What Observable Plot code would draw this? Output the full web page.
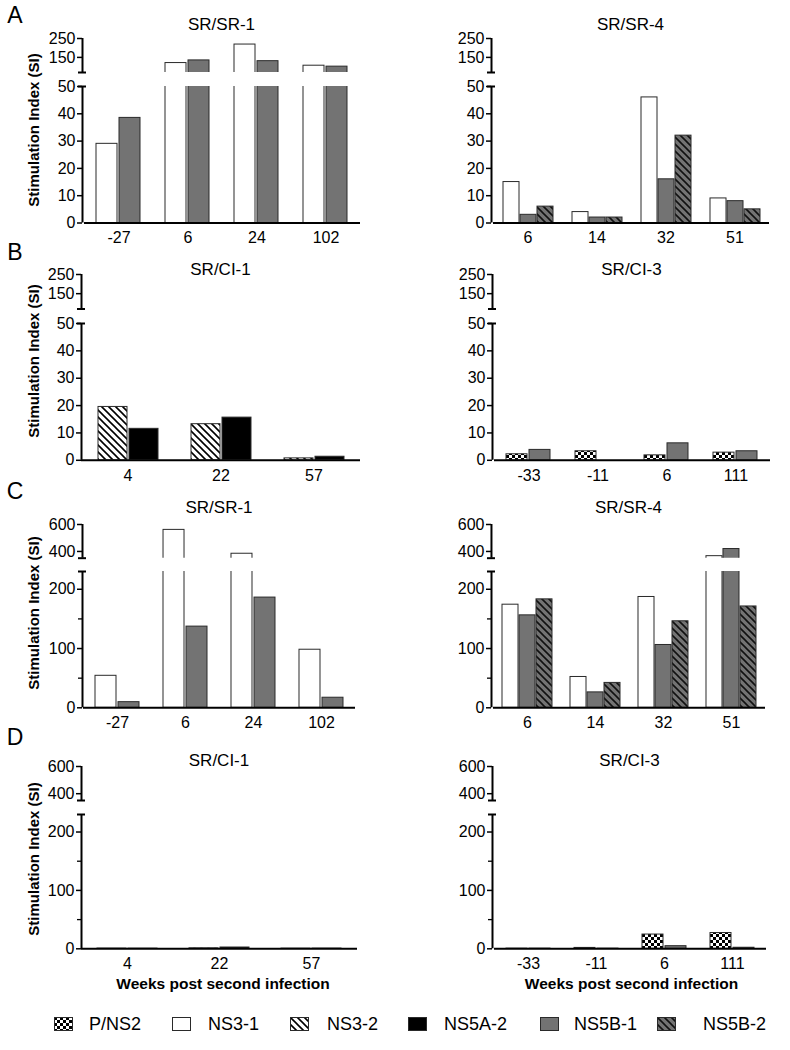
<!DOCTYPE html>
<html><head><meta charset="utf-8">
<script src="https://cdn.jsdelivr.net/npm/d3@7"></script>
<script src="https://cdn.jsdelivr.net/npm/@observablehq/plot@0.6"></script>
<style>
body{margin:0;background:#fff;}
#chart{position:relative;width:790px;height:1050px;background:#fff;font-family:"Liberation Sans",Arial,Helvetica,sans-serif;color:#000;overflow:hidden;}
.abs{position:absolute;white-space:nowrap;transform:translate(-50%,-50%);line-height:normal;}
.letter{font-size:23px;}
.ptitle{font-size:17px;}
.ytitle{font-size:15px;font-weight:bold;transform:translate(-50%,-50%) rotate(-90deg);}
.xtitle{font-size:15.5px;font-weight:bold;}
.legtext{font-size:18px;transform:translate(0,-50%);}
.legsw{position:absolute;transform:translate(0,-50%);}
</style></head>
<body><div id="chart">
<svg width="0" height="0" style="position:absolute"><defs>
<pattern id="pChecker" patternUnits="userSpaceOnUse" width="6" height="6">
<rect width="6" height="6" fill="#fff"/><rect width="3" height="3" fill="#000"/><rect x="3" y="3" width="3" height="3" fill="#000"/>
</pattern>
<pattern id="pHatchWhite" patternUnits="userSpaceOnUse" width="7" height="7">
<rect width="7" height="7" fill="#fff"/><path d="M-1,-1L8,8M-1,6L1,8M6,-1L8,1" stroke="#000" stroke-width="1.6"/>
</pattern>
<pattern id="pHatchGray" patternUnits="userSpaceOnUse" width="7" height="7">
<rect width="7" height="7" fill="#737373"/><path d="M-1,-1L8,8M-1,6L1,8M6,-1L8,1" stroke="#111" stroke-width="1.6"/>
</pattern>
</defs></svg>
</div>
<script>
// ---------- data ----------
const seriesNames = ["P/NS2","NS3-1","NS3-2","NS5A-2","NS5B-1","NS5B-2"];
const seriesFills = ["url(#pChecker)","#ffffff","url(#pHatchWhite)","#000000","#737373","url(#pHatchGray)"];

const weeksSR1 = ["-27","6","24","102"];
const weeksSR4 = ["6","14","32","51"];
const weeksCI1 = ["4","22","57"];
const weeksCI3 = ["-33","-11","6","111"];

// A
const aSR1_NS3_1  = [29, 120, 218, 106];
const aSR1_NS5B_1 = [38.5, 134, 130, 101];
const aSR4_NS3_1  = [15, 4, 46, 9];
const aSR4_NS5B_1 = [3, 2, 16, 8];
const aSR4_NS5B_2 = [6, 2, 32, 5];
// B
const bCI1_NS3_2  = [19.5, 13.2, 0.7];
const bCI1_NS5A_2 = [11.5, 15.6, 1.3];
const bCI3_PNS2   = [2.2, 3.3, 1.8, 2.8];
const bCI3_NS5B_1 = [3.8, 0, 6.2, 3.3];
// C
const cSR1_NS3_1  = [54, 560, 383, 98];
const cSR1_NS5B_1 = [9.5, 137, 186, 17];
const cSR4_NS3_1  = [174, 52, 187, 365];
const cSR4_NS5B_1 = [156, 26, 106, 418];
const cSR4_NS5B_2 = [183, 42, 146, 171];
// D
const dCI1_NS3_2  = [0.4, 0.8, 0.3];
const dCI1_NS5A_2 = [0.3, 2.2, 0.4];
const dCI3_PNS2   = [0.3, 1.5, 24.4, 27];
const dCI3_NS5B_1 = [0.3, 0.3, 4.5, 1.8];

// axis segments and ticks
const domainSmallUpper = [70, 250], ticksSmallUpper = [150, 250];
const domainSmallLower = [0, 50],   ticksSmallLower = [0, 10, 20, 30, 40, 50];
const domainLargeUpper = [350, 600], ticksLargeUpper = [400, 600];
const domainLargeLower = [0, 230],   ticksLargeLower = [0, 100, 200], minorLargeLower = [50, 150];

const panelTitles = ["SR/SR-1","SR/SR-4","SR/CI-1","SR/CI-3","SR/SR-1","SR/SR-4","SR/CI-1","SR/CI-3"];
const yTitle = "Stimulation Index (SI)";
const xTitle = "Weeks post second infection";
const rowLetters = ["A","B","C","D"];

const panels = [
  {weeks: weeksSR1, series: ["NS3-1","NS5B-1"], values: [aSR1_NS3_1, aSR1_NS5B_1], big: false},
  {weeks: weeksSR4, series: ["NS3-1","NS5B-1","NS5B-2"], values: [aSR4_NS3_1, aSR4_NS5B_1, aSR4_NS5B_2], big: false},
  {weeks: weeksCI1, series: ["NS3-2","NS5A-2"], values: [bCI1_NS3_2, bCI1_NS5A_2], big: false},
  {weeks: weeksCI3, series: ["P/NS2","NS5B-1"], values: [bCI3_PNS2, bCI3_NS5B_1], big: false},
  {weeks: weeksSR1, series: ["NS3-1","NS5B-1"], values: [cSR1_NS3_1, cSR1_NS5B_1], big: true},
  {weeks: weeksSR4, series: ["NS3-1","NS5B-1","NS5B-2"], values: [cSR4_NS3_1, cSR4_NS5B_1, cSR4_NS5B_2], big: true},
  {weeks: weeksCI1, series: ["NS3-2","NS5A-2"], values: [dCI1_NS3_2, dCI1_NS5A_2], big: true},
  {weeks: weeksCI3, series: ["P/NS2","NS5B-1"], values: [dCI3_PNS2, dCI3_NS5B_1], big: true}
];

// ---------- layout ----------
const rowLayout = [
  {letterY: 14.5, titleY: 25,  up: [38, 72],      lo: [86, 222.5],  yTitleY: 130, xr: [[82, 361], [491, 770]]},
  {letterY: 252,  titleY: 270, up: [273.5, 308],  lo: [322.5, 459.3], yTitleY: 361, xr: [[81, 360], [492, 771]]},
  {letterY: 491,  titleY: 508, up: [524, 557.7],  lo: [571, 707.3],  yTitleY: 613, xr: [[82, 356], [491, 766]]},
  {letterY: 737,  titleY: 761, up: [766, 800],    lo: [814, 948.3],  yTitleY: 859, xr: [[81, 357], [492, 767]]}
];

const chart = document.getElementById("chart");
const baseStyle = {background: "transparent", overflow: "visible", fontFamily: "Liberation Sans, Arial, sans-serif", fontSize: "16px", color: "black"};

function place(el, left, top) {
  el.style.position = "absolute";
  el.style.left = left + "px";
  el.style.top = top + "px";
  el.style.maxWidth = "none";
  chart.appendChild(el);
}
function addText(cls, txt, x, y) {
  const d = document.createElement("div");
  d.className = "abs " + cls;
  d.textContent = txt;
  d.style.left = x + "px";
  d.style.top = y + "px";
  chart.appendChild(d);
}

function barPlot(p, domain, top, bottom, x0, x1, lower) {
  const rows = [];
  p.weeks.forEach((w, i) => p.series.forEach((s, j) => rows.push({week: w, series: s, value: p.values[j][i]})));
  const mb = lower ? 40 : 0;
  const plot = Plot.plot({
    width: x1 - x0, height: bottom - top + mb,
    marginLeft: 0, marginRight: 0, marginTop: 0, marginBottom: mb,
    facet: {data: rows, x: "week"},
    fx: {domain: p.weeks, padding: 0, axis: lower ? "bottom" : null, label: null, tickSize: 0, tickPadding: 9},
    x: {domain: p.series, paddingInner: 0.07, paddingOuter: 0.5, axis: null},
    y: {domain, axis: null},
    color: {domain: seriesNames, range: seriesFills},
    style: baseStyle,
    marks: [
      Plot.barY(rows, {x: "series", y: "value", fill: "series", stroke: "#2a2a2a", strokeWidth: 1, clip: true}),
      lower ? Plot.ruleY([0], {stroke: "#000", strokeWidth: 2}) : null
    ]
  });
  place(plot, x0, top);
}

function axisPlot(domain, top, bottom, axisX, ticks, minor, caps) {
  const pad = 30;
  const plot = Plot.plot({
    width: axisX + 10, height: bottom - top + 2 * pad,
    marginTop: pad, marginBottom: pad, marginLeft: axisX, marginRight: 10,
    x: {domain: [-1, 1], range: [axisX - 5, axisX + 5], axis: null},
    y: {domain, axis: null},
    style: baseStyle,
    marks: [
      Plot.ruleX([0], {y1: () => domain[0], y2: () => domain[1], stroke: "#000", strokeWidth: 2}),
      Plot.ruleY(ticks, {y: d => d, x1: () => -1, x2: () => 0, stroke: "#000", strokeWidth: 1.5}),
      Plot.ruleY(minor, {y: d => d, x1: () => -0.8, x2: () => 0, stroke: "#000", strokeWidth: 1.3}),
      Plot.ruleY(caps, {y: d => d, x1: () => -0.8, x2: () => 0.8, stroke: "#000", strokeWidth: 2}),
      Plot.text(ticks, {x: () => -1, y: d => d, text: d => String(d), textAnchor: "end", dx: -2, fontSize: 16, fill: "#000"})
    ]
  });
  place(plot, 0, top - pad);
}

panels.forEach((p, k) => {
  const r = Math.floor(k / 2), side = k % 2;
  const L = rowLayout[r];
  const [x0, x1] = L.xr[side];
  const upD = p.big ? domainLargeUpper : domainSmallUpper;
  const loD = p.big ? domainLargeLower : domainSmallLower;
  const upT = p.big ? ticksLargeUpper : ticksSmallUpper;
  const loT = p.big ? ticksLargeLower : ticksSmallLower;
  const loM = p.big ? minorLargeLower : [];
  barPlot(p, upD, L.up[0], L.up[1], x0, x1, false);
  barPlot(p, loD, L.lo[0], L.lo[1], x0, x1, true);
  axisPlot(upD, L.up[0], L.up[1], x0, upT, [], [upD[0]]);
  axisPlot(loD, L.lo[0], L.lo[1], x0, loT, loM, [loD[1]]);
  addText("ptitle", panelTitles[k], (x0 + x1) / 2, L.titleY);
  if (side === 0) {
    addText("ytitle", yTitle, 33, L.yTitleY);
    addText("letter", rowLetters[r], 15, L.letterY);
  }
  if (r === 3) addText("xtitle", xTitle, (x0 + x1) / 2 + (side ? 2 : 4), 984);
});

// ---------- legend ----------
const legendSwatchX = [54, 172, 290, 408, 540, 657];
const legendTextX = [89, 208, 327, 444, 574, 703];
seriesNames.forEach((s, i) => {
  const ns = "http://www.w3.org/2000/svg";
  const svg = document.createElementNS(ns, "svg");
  svg.setAttribute("width", 19); svg.setAttribute("height", 14);
  svg.setAttribute("class", "legsw");
  const rect = document.createElementNS(ns, "rect");
  rect.setAttribute("x", 0.5); rect.setAttribute("y", 0.5);
  rect.setAttribute("width", 18); rect.setAttribute("height", 13);
  rect.setAttribute("fill", seriesFills[i]); rect.setAttribute("stroke", "#2a2a2a");
  svg.appendChild(rect);
  svg.style.left = legendSwatchX[i] + "px"; svg.style.top = "1024px";
  chart.appendChild(svg);
  const t = document.createElement("div");
  t.className = "abs legtext"; t.textContent = s;
  t.style.left = legendTextX[i] + "px"; t.style.top = "1024px";
  chart.appendChild(t);
});
</script></body></html>
